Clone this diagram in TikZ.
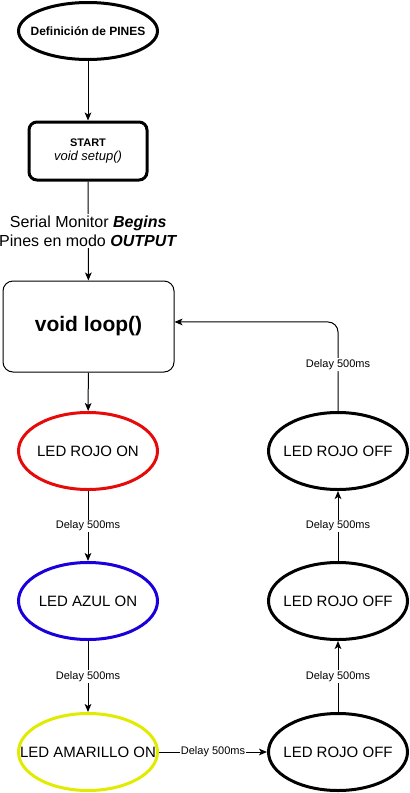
\documentclass[tikz,border=0pt]{standalone}
\usepackage{fontspec}
\setmainfont{Liberation Sans}
\usetikzlibrary{shapes.geometric,arrows.meta}
\definecolor{ledred}{RGB}{230,10,10}
\definecolor{ledblue}{RGB}{25,0,220}
\definecolor{ledyellow}{RGB}{225,235,0}
\tikzset{
  flow/.style={-{Stealth[length=6pt,width=5pt,inset=1.5pt]},line width=0.75pt},
  state/.style={ellipse,draw,line width=2.25pt,inner xsep=-40pt,inner ysep=0pt,minimum width=104.25pt,minimum height=57.75pt,font=\fontsize{11.25}{13.5}\selectfont},
  delay/.style={fill=white,inner sep=1pt,font=\fontsize{8.25}{10}\selectfont},
}
\begin{document}
\begin{tikzpicture}[x=0.75pt,y=-0.75pt]
\useasboundingbox (0,0) rectangle (410,793);
\node[ellipse,draw,line width=2.25pt,inner xsep=-40pt,inner ysep=0pt,minimum width=104.25pt,minimum height=42.75pt,font=\fontsize{9}{10}\selectfont\bfseries] (pines) at (88,31) {Definición de PINES};
\node[draw,rounded corners=6pt,line width=2.25pt,minimum width=88.5pt,minimum height=43.5pt,align=center,font=\fontsize{8.25}{11}\selectfont] (setup) at (88,151) {\textbf{START}\\{\fontsize{9.75}{11}\selectfont\itshape void setup()}};
\node[draw,rounded corners=7.5pt,line width=0.75pt,minimum width=128.25pt,minimum height=68.25pt,font=\fontsize{15.75}{18}\selectfont\bfseries] (loop) at (88.5,326.5) {void loop()};
\node[state,draw=ledred] (rojoOn) at (88,451) {LED ROJO ON};
\node[state,draw=ledblue] (azulOn) at (88,601) {LED AZUL ON};
\node[state,draw=ledyellow] (amarilloOn) at (88,752) {LED AMARILLO ON};
\node[state] (rojoOffC) at (338,752) {LED ROJO OFF};
\node[state] (rojoOffB) at (338,601) {LED ROJO OFF};
\node[state] (rojoOffA) at (338,451) {LED ROJO OFF};
% setup and main loop
\draw[flow] (pines) -- (setup);
\draw[flow] (setup) -- node[fill=white,inner sep=1pt,align=center,font=\fontsize{12}{14.25}\selectfont] {Serial Monitor \textbf{\textit{Begins}}\\Pines en modo \textbf{\textit{OUTPUT}}} (loop);
\draw[flow] (loop) -- (rojoOn);
% LED sequence
\draw[flow] (rojoOn) -- node[delay] {Delay 500ms} (azulOn);
\draw[flow] (azulOn) -- node[delay] {Delay 500ms} (amarilloOn);
\draw[flow] (amarilloOn) -- node[delay] {Delay 500ms} (rojoOffC);
\draw[flow] (rojoOffC) -- node[delay] {Delay 500ms} (rojoOffB);
\draw[flow] (rojoOffB) -- node[delay] {Delay 500ms} (rojoOffA);
\draw[flow,rounded corners=7.5pt] (rojoOffA) |- node[delay,pos=0.26] {Delay 500ms} ([yshift=3.4pt]loop.east);
\end{tikzpicture}
\end{document}
